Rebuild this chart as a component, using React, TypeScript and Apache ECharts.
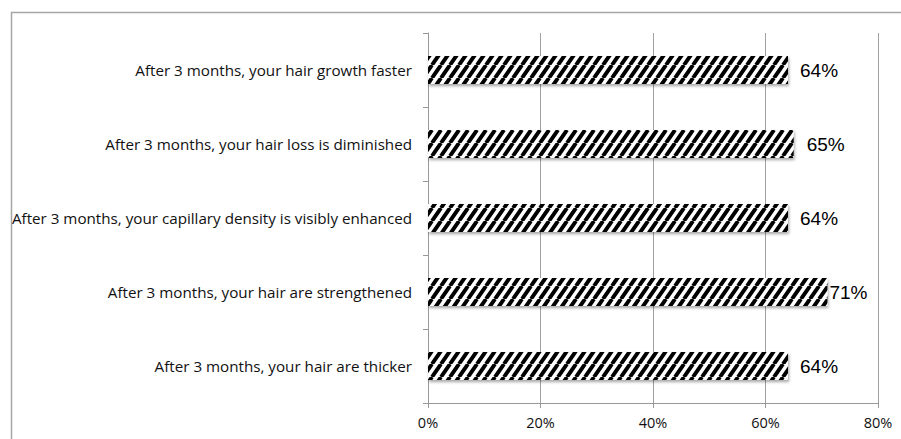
import React, { useEffect, useRef } from "react";
import * as echarts from "echarts";

const categories = [
  "After 3 months, your hair growth faster",
  "After 3 months, your hair loss is diminished",
  "After 3 months, your capillary density is visibly enhanced",
  "After 3 months, your hair are strengthened",
  "After 3 months, your hair are thicker",
];
const values = [64, 65, 64, 71, 64];
const labelGaps = [12, 13, 12, 2, 12];
const xTicks = [0, 20, 40, 60, 80];

function makePattern(): HTMLCanvasElement {
  const w = 9;
  const h = 13;
  const c = document.createElement("canvas");
  c.width = w;
  c.height = h;
  const ctx = c.getContext("2d")!;
  ctx.fillStyle = "#ffffff";
  ctx.fillRect(0, 0, w, h);
  ctx.strokeStyle = "#000000";
  ctx.lineWidth = 3.9;
  ctx.beginPath();
  for (const k of [-1, 0, 1]) {
    ctx.moveTo(k * w, h);
    ctx.lineTo(k * w + w, 0);
  }
  ctx.stroke();
  return c;
}

export default function App() {
  const ref = useRef<HTMLDivElement>(null);
  useEffect(() => {
    if (!ref.current) return;
    const chart = echarts.init(ref.current, null, { renderer: "svg" });
    const pattern = makePattern();
    chart.setOption({
      animation: false,
      backgroundColor: "#ffffff",
      graphic: [
        {
          type: "rect",
          shape: { x: 11.5, y: 12.5, width: 950, height: 500 },
          style: { fill: "none", stroke: "#a6a6a6", lineWidth: 1.5 },
          silent: true,
        },
      ],
      grid: { left: 428, right: 23, top: 33, bottom: 36, containLabel: false },
      xAxis: {
        type: "value",
        min: xTicks[0],
        max: xTicks[xTicks.length - 1],
        interval: 20,
        axisLabel: {
          formatter: "{value}%",
          fontFamily: "Open Sans",
          fontSize: 14.5,
          color: "#111",
          margin: 12,
        },
        axisLine: { show: true, lineStyle: { color: "#999", width: 1 } },
        axisTick: { show: true, length: 5, lineStyle: { color: "#999" } },
        splitLine: { show: true, lineStyle: { color: "#a0a0a0", width: 1 } },
      },
      yAxis: {
        type: "category",
        data: categories,
        inverse: true,
        axisLabel: {
          fontFamily: "Open Sans",
          fontSize: 15.2,
          color: "#111",
          margin: 16,
        },
        axisLine: { show: true, lineStyle: { color: "#999", width: 1 } },
        axisTick: { show: true, length: 5, alignWithLabel: false, lineStyle: { color: "#999" } },
        splitLine: { show: false },
      },
      series: [
        {
          type: "bar",
          barWidth: 28,
          data: values.map((v, i) => ({
            value: v,
            label: { distance: labelGaps[i] },
          })),
          itemStyle: {
            color: { image: pattern, repeat: "repeat" },
            shadowColor: "rgba(0,0,0,0.35)",
            shadowBlur: 3,
            shadowOffsetX: 1,
            shadowOffsetY: 2,
          },
          label: {
            show: true,
            position: "right",
            formatter: "{c}%",
            fontFamily: "Liberation Sans",
            fontSize: 19,
            color: "#000",
          },
        },
      ],
    });
    return () => chart.dispose();
  }, []);
  return (
    <div
      ref={ref}
      style={{ position: "fixed", left: 0, top: 0, width: 901, height: 439 }}
    />
  );
}
